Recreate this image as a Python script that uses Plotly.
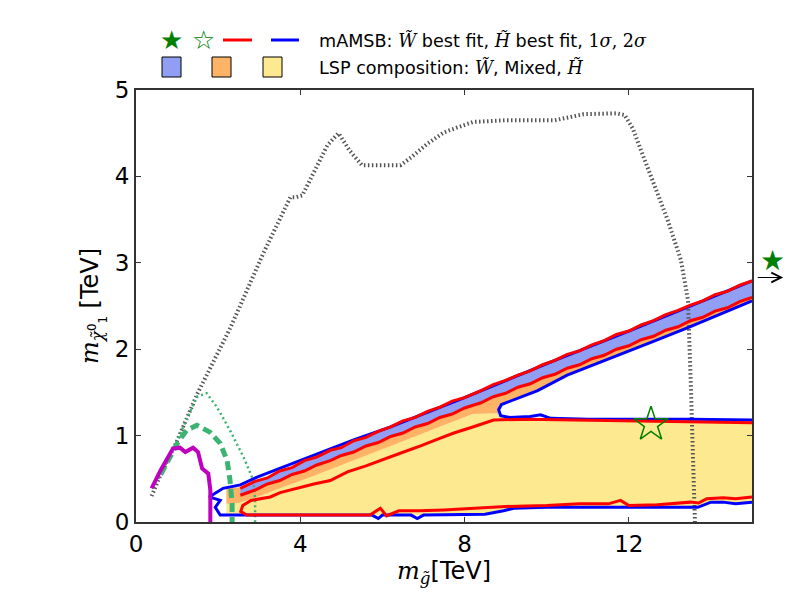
import plotly.graph_objects as go

# ---------------- data (TeV) ----------------
# upper limit (grey dotted)
lim_x = [0.38, 0.6, 1.0, 1.5, 2.3, 3.1, 3.76, 3.9, 4.05, 4.4, 4.66, 4.93, 5.2, 5.5, 6.0, 6.44, 6.7, 7.1, 7.5, 8.2, 9.0, 10.2, 10.9, 11.7, 11.9, 12.1, 12.5, 12.95, 13.27, 13.44, 13.51, 13.56, 13.61]
lim_y = [0.30, 0.55, 0.94, 1.49, 2.25, 3.11, 3.76, 3.76, 3.78, 4.10, 4.36, 4.50, 4.30, 4.13, 4.13, 4.13, 4.22, 4.38, 4.51, 4.63, 4.65, 4.65, 4.72, 4.73, 4.71, 4.55, 4.05, 3.49, 3.03, 2.57, 1.60, 0.83, 0.0]

# magenta
mag_x = [0.38, 0.6, 0.9, 1.07, 1.2, 1.39, 1.51, 1.61, 1.76, 1.81, 1.81]
mag_y = [0.39, 0.60, 0.85, 0.86, 0.81, 0.86, 0.81, 0.62, 0.56, 0.37, 0.0]

# green dashed
gda_x = [0.6, 1.02, 1.23, 1.48, 1.8, 2.05, 2.22, 2.29, 2.34, 2.34]
gda_y = [0.55, 0.92, 1.06, 1.12, 1.04, 0.91, 0.71, 0.48, 0.21, 0.0]

# green dotted
gdo_x = [0.55, 1.0, 1.48, 1.72, 1.97, 2.29, 2.62, 2.86, 2.9, 2.9]
gdo_y = [0.50, 0.94, 1.45, 1.49, 1.33, 1.06, 0.75, 0.48, 0.25, 0.0]

# red outer band: top edge and bottom edge
band_x = [2.54, 2.9, 3.2, 3.5, 3.8, 4.1, 4.4, 4.73, 5.0, 5.3, 5.6, 5.9, 6.2, 6.5, 6.8, 7.1, 7.4, 7.7, 8.0, 8.4, 8.7,
          9.0, 9.3, 9.6, 9.9, 10.2, 10.5, 10.8, 11.1, 11.4, 11.7, 12.0, 12.3, 12.6, 12.9, 13.2, 13.5, 13.8, 14.1, 14.4, 14.7, 15.0]
band_top = [0.39, 0.47, 0.51, 0.59, 0.63, 0.71, 0.75, 0.83, 0.86, 0.94, 0.98, 1.05, 1.10, 1.17, 1.21, 1.28, 1.33, 1.40, 1.44, 1.52, 1.59,
            1.64, 1.70, 1.75, 1.82, 1.87, 1.94, 1.98, 2.05, 2.10, 2.17, 2.21, 2.28, 2.33, 2.40, 2.45, 2.51, 2.56, 2.63, 2.67, 2.74, 2.79]
band_bot = [0.31, 0.37, 0.44, 0.48, 0.55, 0.59, 0.66, 0.71, 0.77, 0.81, 0.88, 0.92, 0.99, 1.03, 1.10, 1.14, 1.21, 1.25, 1.32, 1.38, 1.45,
            1.49, 1.56, 1.60, 1.67, 1.71, 1.78, 1.82, 1.89, 1.93, 2.00, 2.04, 2.11, 2.15, 2.22, 2.26, 2.33, 2.37, 2.44, 2.48, 2.55, 2.60]

# red inner contour (1 sigma)
in_x = [15.0, 13.5, 12.5, 11.6, 10.66, 9.5, 8.71, 8.2, 7.74, 7.3, 6.93, 6.4, 5.95, 5.6, 5.15, 4.73, 4.33, 4.0, 3.51, 3.27, 2.8, 2.6, 2.55,
        2.7, 5.7, 5.95, 6.1, 6.4, 6.9, 7.5, 8.4, 9.0, 10.0, 10.8, 11.5, 11.8, 12.0, 12.7, 13.5, 13.7, 13.9, 14.3, 14.6, 15.0]
in_y = [1.15, 1.16, 1.16, 1.17, 1.18, 1.19, 1.18, 1.10, 1.03, 0.95, 0.88, 0.79, 0.71, 0.65, 0.58, 0.48, 0.44, 0.40, 0.34, 0.29, 0.25, 0.19, 0.12,
        0.08, 0.08, 0.16, 0.07, 0.13, 0.13, 0.14, 0.16, 0.18, 0.19, 0.21, 0.21, 0.25, 0.19, 0.20, 0.23, 0.22, 0.27, 0.28, 0.27, 0.29]

# blue contour, piece A (lower diagonal + notch + flat)
bA_x = [15.0, 14.4, 13.44, 12.6, 11.32, 10.5, 9.78, 9.5, 9.2, 8.9, 8.83, 8.88, 9.1, 9.6, 9.85, 10.1, 11.0, 12.0, 13.5, 15.0]
bA_y = [2.56, 2.44, 2.25, 2.09, 1.85, 1.70, 1.52, 1.47, 1.42, 1.36, 1.30, 1.23, 1.21, 1.22, 1.24, 1.20, 1.19, 1.19, 1.19, 1.18]
# blue contour, piece B (bottom + left + top)
bB_x = [15.0, 14.6, 14.3, 14.0, 13.68, 12.0, 10.0, 9.2, 8.95, 8.5, 7.0, 6.85, 6.7, 6.0, 5.9, 5.75, 2.05, 1.93, 2.05, 1.78, 2.12, 2.54, 2.95, 3.5, 4.1, 4.73, 5.3, 6.2, 8.0, 10.2, 12.0, 15.0]
bB_y = [0.23, 0.21, 0.23, 0.23, 0.17, 0.17, 0.17, 0.16, 0.13, 0.09, 0.08, 0.04, 0.08, 0.08, 0.04, 0.08, 0.08, 0.17, 0.25, 0.29, 0.39, 0.43, 0.52, 0.62, 0.73, 0.85, 0.95, 1.10, 1.44, 1.87, 2.21, 2.79]

# LSP composition fills
hig_x = [2.2, 2.7, 5.7, 7.0, 8.5, 9.2, 10.0, 12.0, 13.68, 14.0, 15.0, 15.0, 13.5, 12.0, 10.0, 9.1, 8.85, 8.2, 7.5, 6.76, 5.95, 5.15, 4.3, 3.51, 2.9, 2.5, 2.2]
hig_y = [0.08, 0.08, 0.08, 0.08, 0.09, 0.16, 0.17, 0.17, 0.17, 0.23, 0.23, 1.17, 1.18, 1.18, 1.19, 1.20, 1.26, 1.25, 1.12, 0.99, 0.84, 0.69, 0.53, 0.39, 0.28, 0.22, 0.21]
mix_x = [2.2, 2.2, 2.54] + band_x[1:] + [15.0, 14.4, 13.44, 12.6, 11.32, 10.5, 9.78, 9.5, 9.2, 8.9, 8.83, 8.85, 8.2, 7.5, 6.76, 5.95, 5.15, 4.3, 3.51, 2.9, 2.5]
mix_y = [0.21, 0.40, 0.40] + band_bot[1:] + [2.56, 2.44, 2.25, 2.09, 1.85, 1.70, 1.52, 1.47, 1.42, 1.36, 1.30, 1.26, 1.25, 1.12, 0.99, 0.84, 0.69, 0.53, 0.39, 0.28, 0.22]
win_x = band_x + band_x[::-1]
win_y = band_top + band_bot[::-1]

# best-fit points
wino_best = (15.49, 3.03)   # off scale, shown at the right edge with an arrow
hig_best = (12.54, 1.13)

x_ticks = [0, 4, 8, 12]
y_ticks = [0, 1, 2, 3, 4, 5]
X_RANGE = [0, 15]
Y_RANGE = [0, 5]

# ---------------- styles ----------------
C_W = "#909ef4"
C_MIX = "#ffb366"
C_H = "#fde98f"
GREEN = "#3cb371"

W, H = 800, 600
L, R, T, B = 128, 56, 82, 86
PW, PH = W - L - R, H - T - B
OFF = 8  # page body margin in the screenshot


def px(xp):  # screenshot pixel -> paper
    return (xp - OFF - L) / PW


def py(yp):
    return (H - B - (yp - OFF)) / PH


fig = go.Figure()


def poly(x, y, color):
    fig.add_trace(go.Scatter(x=x, y=y, fill="toself", fillcolor=color, mode="lines",
                             line=dict(width=0, color=color), hoverinfo="skip", showlegend=False))


def line(x, y, color, width, dash="solid"):
    fig.add_trace(go.Scatter(x=x, y=y, mode="lines", line=dict(color=color, width=width, dash=dash),
                             hoverinfo="skip", showlegend=False))


poly(hig_x, hig_y, C_H)
poly(mix_x, mix_y, C_MIX)
poly(win_x, win_y, C_W)

line(lim_x, lim_y, "#555555", 4, "1.5px,2.5px")
line(gdo_x, gdo_y, GREEN, 2.5, "2px,3px")
line(gda_x, gda_y, GREEN, 5, "9px,5px")

line(bA_x, bA_y, "#0000ff", 3)
line(bB_x, bB_y, "#0000ff", 3)
line(band_x, band_top, "#ff0000", 3)
line(band_x, band_bot, "#ff0000", 3)
line(in_x, in_y, "#ff0000", 3)
line(mag_x, mag_y, "#bf00bf", 4)

fig.add_trace(go.Scatter(x=[hig_best[0]], y=[hig_best[1]], mode="markers",
                         marker=dict(symbol="star-open", size=26, color="#008000", line=dict(width=1.5, color="#008000")),
                         hoverinfo="skip", showlegend=False))

FONT = "DejaVu Sans"
SERIF = "DejaVu Serif"


def m(s):
    return "<span style='font-family:%s'><i>%s</i></span>" % (SERIF, s)


ann = []
# off-scale wino best fit: star beyond the right edge + arrow
wx = wino_best[0] / (X_RANGE[1] - X_RANGE[0])
wy = wino_best[1] / (Y_RANGE[1] - Y_RANGE[0])
ann.append(dict(x=wx, y=wy, xref="paper", yref="paper", text="★", showarrow=False,
                font=dict(family=FONT, size=28, color="#008000"), xanchor="center", yanchor="middle"))
ann.append(dict(x=wx + 0.018, y=wy - 0.04, xref="paper", yref="paper", ax=-27, ay=0, showarrow=True,
                arrowhead=5, arrowsize=1.6, arrowwidth=1.2, arrowcolor="black", text=""))

# legend
ann.append(dict(x=px(171), y=py(40), xref="paper", yref="paper", text="★", showarrow=False,
                font=dict(family=FONT, size=26, color="#008000"), xanchor="center", yanchor="middle"))
ann.append(dict(x=px(203), y=py(40), xref="paper", yref="paper", text="☆", showarrow=False,
                font=dict(family=FONT, size=26, color="#008000"), xanchor="center", yanchor="middle"))
ann.append(dict(x=px(317), y=py(40), xref="paper", yref="paper", xanchor="left", yanchor="middle", showarrow=False,
                text="mAMSB: " + m("W̃") + " best fit, " + m("H̃") + " best fit, "
                     + "<span style='font-family:%s'>1<i>σ</i>, 2<i>σ</i></span>" % SERIF,
                font=dict(family=FONT, size=17.6, color="black")))
ann.append(dict(x=px(317), y=py(67), xref="paper", yref="paper", xanchor="left", yanchor="middle", showarrow=False,
                text="LSP composition: " + m("W̃") + ", Mixed, " + m("H̃"),
                font=dict(family=FONT, size=17.6, color="black")))

# axis titles
ann.append(dict(x=0.5, y=py(572), xref="paper", yref="paper", xanchor="center", yanchor="middle", showarrow=False,
                text=m("m") + "<sub>" + m("g̃") + "</sub>[TeV]", font=dict(family=FONT, size=24, color="black")))
ann.append(dict(x=px(93), y=0.5, xref="paper", yref="paper", xanchor="center", yanchor="middle", showarrow=False,
                textangle=-90,
                text=m("m") + "<sub>" + m("χ̃") + "<sup>0</sup><sub>1</sub></sub> [TeV]",
                font=dict(family=FONT, size=24, color="black")))

shapes = []
shapes.append(dict(type="line", xref="paper", yref="paper", x0=px(223), x1=px(252), y0=py(40), y1=py(40),
                   line=dict(color="#ff0000", width=3)))
shapes.append(dict(type="line", xref="paper", yref="paper", x0=px(271), x1=px(299), y0=py(40), y1=py(40),
                   line=dict(color="#0000ff", width=3)))
for x0, c in [(162, C_W), (212, C_MIX), (263, C_H)]:
    shapes.append(dict(type="rect", xref="paper", yref="paper", x0=px(x0), x1=px(x0 + 19), y0=py(77), y1=py(57),
                       fillcolor=c, line=dict(color="black", width=1)))

axis_common = dict(showgrid=False, zeroline=False, showline=True, linecolor="#333333", linewidth=2,
                   mirror="allticks", ticks="inside", ticklen=5, tickwidth=1, tickcolor="#333333",
                   tickfont=dict(family=FONT, size=23, color="black"))

fig.update_layout(
    width=W, height=H, margin=dict(l=L, r=R, t=T, b=B, autoexpand=False),
    paper_bgcolor="white", plot_bgcolor="white",
    xaxis=dict(range=X_RANGE, tickvals=x_ticks, ticktext=[str(v) for v in x_ticks], **axis_common),
    yaxis=dict(range=Y_RANGE, tickvals=y_ticks, ticktext=[str(v) for v in y_ticks], **axis_common),
    annotations=ann, shapes=shapes, showlegend=False,
)

fig.write_html("out.html")
